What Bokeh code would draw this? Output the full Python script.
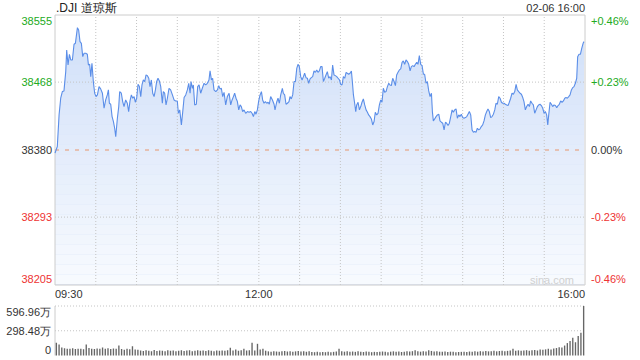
from bokeh.plotting import figure
from bokeh.models import Range1d, Label, ColumnDataSource
from bokeh.embed import file_html
from bokeh.resources import INLINE

title_text = ".DJI 道琼斯"
date_text = "02-06 16:00"
watermark = "sina.com"
prev_close = 38380
price_ticks = [38205, 38293, 38380, 38468, 38555]
pct_labels = ["-0.46%", "-0.23%", "0.00%", "+0.23%", "+0.46%"]
time_ticks = [0, 150, 390]
time_labels = ["09:30", "12:00", "16:00"]
vol_ticks = [0, 298.48, 596.96]
vol_labels = ["0", "298.48万", "596.96万"]

# minutes after 09:30
line_minutes = [
    0, 1.7, 3.0, 4.2, 5.4, 6.6, 7.9, 8.6, 9.6, 10.6, 11.6, 12.8, 14.0, 15.0, 16.5, 17.4, 18.4, 19.4, 20.4, 21.4,
    22.6, 23.8, 24.6, 25.5, 26.3, 27.2, 28.2, 29.2, 30.2, 31.2, 32.4, 33.6, 34.9, 36.1, 37.3, 38.5, 39.3, 40.0, 41.0, 42.0,
    43.0, 43.9, 44.7, 45.9, 46.9, 47.6, 48.8, 49.8, 50.8, 52.0, 53.2, 54.2, 55.2, 56.2, 57.2, 58.2, 59.1, 60.1, 61.1, 62.1,
    63.1, 64.0, 65.0, 66.0, 67.0, 68.0, 69.0, 69.9, 70.9, 71.9, 72.9, 73.9, 74.8, 75.8, 76.8,
    77.8, 79.0, 79.7, 80.7, 81.7, 82.7, 83.9, 85.1, 86.4, 87.6, 88.8, 90.0, 90.8, 91.8, 93.0, 94.0, 95.0, 96.2, 97.4, 98.4,
    99.4, 100.1, 101.1, 101.8, 102.8, 104.0, 105.0, 106.0, 107.2, 108.4, 109.7, 110.9, 112.1, 113.3, 114.1, 115.1, 116.0, 117.0, 118.3, 119.5,
    120.5, 121.4, 122.4, 123.4, 124.4, 125.6, 126.8, 128.1, 129.3, 130.3, 131.3, 132.2, 133.2, 134.2, 135.2, 136.2, 137.1, 138.1, 139.1, 140.3,
    141.6, 142.8, 144.0, 145.0, 146.0, 147.0, 147.9, 148.9, 149.9, 150.9, 151.9, 152.8, 153.8, 154.8, 155.8, 156.8, 157.7,
    158.7, 160.0, 161.2, 161.9, 163.1, 164.1, 165.1, 166.1, 167.3, 168.0, 169.0, 170.0, 171.0, 172.2, 172.9, 173.9, 174.9, 175.9, 176.9, 177.9,
    178.8, 179.8, 180.8, 181.8, 182.8, 183.7, 184.7, 185.7, 186.7, 187.7, 188.6, 189.6, 190.6, 191.6, 192.6, 193.5, 194.5, 195.5, 196.5, 197.5,
    198.5, 199.4, 200.4, 201.4, 202.4, 203.4, 204.3, 205.3, 206.3, 207.3, 208.3, 209.3, 210.2, 211.2, 212.2, 213.2, 214.2, 215.1, 216.1, 217.1,
    218.1, 218.8, 219.6, 220.5, 221.3, 222.0, 223.0, 224.0, 225.0, 225.9, 226.9, 227.9, 228.9, 229.9, 230.8, 231.8, 232.8, 233.8, 234.8, 235.7,
    236.7, 237.7, 238.7,
    239.7, 240.6, 241.6, 242.6, 243.6, 244.6, 245.6, 246.5, 247.5, 248.5, 249.5, 250.5, 251.4, 252.4, 253.4, 254.4, 255.4, 256.3, 257.3, 258.3,
    259.3, 260.3, 261.3, 262.2, 263.2, 264.2, 265.2, 266.2, 267.1, 268.1, 269.1, 270.1, 271.1, 272.0, 273.0, 274.0, 275.0, 276.0, 277.0, 277.7,
    278.4, 279.4, 280.4, 281.4, 282.4, 283.3, 284.3, 285.3, 286.3, 287.3, 288.2, 289.2, 290.2, 291.2, 292.2, 293.1, 294.1, 295.1, 296.1, 297.1,
    298.0, 299.0, 300.0, 301.0, 302.0, 303.0, 303.9, 304.9, 305.9, 306.9, 307.9, 308.8, 309.8, 310.8, 311.8, 312.8, 313.7, 314.7, 315.7, 316.7,
    317.7, 318.6, 319.6,
    320.6, 321.6, 322.6, 323.6, 324.5, 325.5, 326.5, 327.5, 328.5, 329.4, 330.4, 331.4, 332.4, 333.4, 334.3, 335.3, 336.3, 337.3, 338.3, 339.3,
    340.2, 341.2, 342.2, 343.2, 344.2, 345.1, 346.1, 347.1, 348.1, 349.1, 350.0, 351.0, 352.0, 353.0, 354.0, 355.0, 355.9, 356.9, 357.9, 358.9,
    359.9, 360.8, 361.8, 362.6, 363.3, 364.3, 365.3, 366.2, 367.2, 368.2, 369.2, 370.2, 371.1, 372.1, 373.1, 374.1, 375.1, 376.0, 377.0, 378.0,
    379.0, 380.0, 381.0, 381.9, 382.9, 383.9, 384.6, 385.6, 386.6, 387.6, 388.6, 389.3,
]

line_values = [
    38376.0, 38384.5, 38425.5, 38447.1, 38455.7, 38456.6, 38481.6, 38509.7, 38490.2, 38504.1, 38496.7, 38496.7, 38517.0, 38518.3, 38538.6, 38535.6, 38520.5, 38518.3, 38501.0, 38505.4,
    38505.4, 38504.1, 38490.2, 38491.1, 38475.1, 38492.4, 38468.7, 38453.6, 38449.2, 38451.4, 38462.2, 38459.2, 38453.6, 38434.1, 38444.9, 38451.4, 38457.9, 38440.6, 38439.3, 38423.3,
    38416.9, 38408.2, 38397.4, 38421.2, 38436.3, 38455.7, 38453.6, 38442.8, 38436.3, 38444.9, 38440.6, 38429.8, 38443.6, 38451.4, 38447.1, 38449.2, 38441.9, 38447.1, 38465.2, 38462.2,
    38449.2, 38464.3, 38470.8, 38468.7, 38477.3, 38476.4, 38473.0, 38462.2, 38470.8, 38453.6, 38449.2, 38457.9, 38468.7, 38473.0, 38469.5,
    38462.2, 38440.6, 38455.7, 38453.6, 38438.4, 38447.1, 38460.0, 38457.9, 38451.4, 38444.9, 38443.6, 38443.6, 38427.6, 38432.0, 38412.5, 38429.8, 38448.0, 38451.4, 38457.9, 38466.5,
    38453.6, 38468.7, 38460.0, 38464.3, 38438.4, 38439.3, 38462.2, 38464.3, 38453.6, 38460.0, 38466.5, 38464.3, 38466.5, 38470.8, 38482.5, 38470.8, 38473.0, 38457.9, 38455.7, 38457.9,
    38463.5, 38459.2, 38460.0, 38449.2, 38454.8, 38438.4, 38449.2, 38453.6, 38438.4, 38444.9, 38449.2, 38453.6, 38447.1, 38442.8, 38432.0, 38438.4, 38436.3, 38429.8, 38432.0, 38427.6,
    38429.8, 38428.9, 38429.8, 38427.6, 38423.3, 38429.8, 38426.4, 38432.0, 38443.6, 38451.4, 38455.7, 38444.9, 38440.6, 38442.8, 38440.6, 38441.9, 38439.3,
    38449.2, 38444.9, 38439.3, 38432.0, 38441.9, 38447.1, 38440.6, 38451.4, 38460.0, 38453.6, 38451.4, 38439.3, 38440.6, 38442.8, 38449.2, 38446.2, 38451.4, 38468.7, 38468.7, 38485.9,
    38491.1, 38488.1, 38475.1, 38470.8, 38475.1, 38479.5, 38473.8, 38473.0, 38466.5, 38472.1, 38473.8, 38475.1, 38482.5, 38480.7, 38483.8, 38480.7, 38482.5, 38488.1, 38488.1, 38468.7,
    38473.0, 38477.3, 38481.6, 38473.0, 38475.1, 38470.8, 38490.2, 38477.3, 38476.4, 38475.1, 38473.0, 38470.8, 38465.2, 38464.3, 38475.1, 38473.0, 38480.7, 38479.5, 38478.2, 38479.5,
    38482.5, 38468.7, 38451.4, 38440.6, 38429.8, 38438.4, 38441.9, 38432.0, 38436.3, 38441.9, 38446.2, 38438.4, 38432.0, 38428.9, 38425.5, 38423.3, 38420.3, 38412.5, 38416.9, 38428.9,
    38425.5, 38427.6, 38438.4,
    38444.9, 38441.9, 38460.0, 38454.8, 38455.7, 38462.2, 38466.5, 38464.3, 38463.5, 38473.0, 38468.7, 38463.5, 38477.3, 38480.7, 38483.8, 38485.1, 38493.7, 38495.4, 38491.1, 38496.7,
    38494.6, 38491.1, 38482.5, 38488.1, 38489.4, 38488.1, 38491.1, 38493.7, 38491.1, 38502.3, 38491.1, 38489.4, 38478.2, 38478.2, 38466.5, 38468.7, 38456.6, 38449.2, 38453.6, 38429.8,
    38417.7, 38420.3, 38423.3, 38425.5, 38426.4, 38417.7, 38416.0, 38414.7, 38406.1, 38416.0, 38414.7, 38411.7, 38414.7, 38423.3, 38432.0, 38428.9, 38432.0, 38433.3, 38421.2, 38425.5,
    38423.3, 38426.4, 38422.0, 38421.2, 38422.0, 38423.3, 38426.4, 38429.8, 38425.5, 38406.1, 38403.0, 38403.9, 38403.0, 38408.2, 38406.1, 38407.4, 38410.4, 38412.5, 38417.7, 38425.5,
    38429.8, 38433.3, 38429.8,
    38422.0, 38423.3, 38426.4, 38432.0, 38440.6, 38439.3, 38449.2, 38447.1, 38441.9, 38440.6, 38440.6, 38439.3, 38438.4, 38437.6, 38441.9, 38447.1, 38453.6, 38452.3, 38455.7, 38465.2,
    38457.9, 38455.7, 38453.6, 38452.3, 38448.0, 38442.8, 38432.0, 38436.3, 38439.3, 38436.3, 38443.6, 38440.6, 38438.4, 38427.6, 38432.0, 38436.3, 38438.4, 38439.3, 38437.6, 38434.1,
    38427.6, 38429.8, 38425.5, 38412.5, 38425.5, 38441.9, 38439.3, 38436.3, 38438.4, 38437.6, 38435.0, 38437.6, 38439.3, 38443.6, 38441.9, 38443.6, 38447.1, 38448.0, 38447.1, 38449.2,
    38451.4, 38457.9, 38460.9, 38462.2, 38466.5, 38473.0, 38501.0, 38504.1, 38504.1, 38511.8, 38518.3, 38520.5,
]

# volume in 万 (10^4 shares), one bar per two minutes
vol_values = [
    153, 134, 95, 88, 82, 80, 86, 78, 82, 80,
    76, 134, 90, 82, 78, 85, 80, 95, 82, 88,
    78, 85, 80, 122, 78, 70, 82, 75, 112, 72,
    68, 60, 55, 62, 58, 52, 65, 55, 60, 58,
    52, 62, 56, 60, 50, 58, 62, 55, 60, 64,
    52, 58, 62, 56, 60, 55, 64, 58, 52, 60,
    56, 60, 58, 62, 93, 60, 72, 58, 62, 80,
    60, 64, 153, 60, 141, 72, 80, 58, 50, 46,
    52, 48, 44, 50, 54, 48, 52, 46, 50, 55,
    48, 52, 45, 50, 42, 40, 44, 38, 42, 40,
    45, 40, 44, 48, 80, 52, 46, 50, 45, 48,
    44, 50, 46, 42, 48, 45, 40, 44, 42, 46,
    48, 44, 40, 46, 50, 44, 48, 42, 46, 50,
    48, 52, 64, 50, 46, 52, 48, 62, 55, 48,
    50, 46, 44, 48, 42, 46, 44, 40, 42, 44,
    46, 42, 48, 44, 50, 46, 52, 48, 55, 50,
    52, 56, 50, 54, 58, 52, 56, 60, 80, 58,
    62, 56, 60, 64, 58, 62, 66, 60, 72, 68,
    74, 80, 72, 85, 90, 100, 95, 120, 150, 175,
    215, 160, 235, 275, 596.96,
]
vol_minutes = list(range(1, 390, 2))

# ---- page geometry (pixels); half pixels keep 1px rules crisp ----
W, H = 640, 360
PLOT_L, PLOT_R = 54.5, 584.5      # price & volume panels, left/right
PRICE_T, PRICE_B = 14.5, 284.5    # price panel top/bottom
VOL_T, VOL_B = 305.5, 355         # volume panel top/bottom

FONT = "Liberation Sans"
GREEN = "#22aa22"
RED = "#ee3333"
DARK = "#333333"
GRID = "#c4c4c4"

t0, t1 = time_ticks[0], time_ticks[-1]
y_lo, y_hi = price_ticks[0], price_ticks[-1]
mpp = (t1 - t0) / (PLOT_R - PLOT_L)
ppp = (y_hi - y_lo) / (PRICE_B - PRICE_T)
vpp = vol_ticks[-1] / (VOL_B - VOL_T)

p = figure(width=W, height=H,
           x_range=Range1d(t0 - PLOT_L * mpp, t1 + (W - PLOT_R) * mpp),
           y_range=Range1d(y_lo - (H - PRICE_B) * ppp, y_hi + PRICE_T * ppp),
           output_backend="svg", toolbar_location=None,
           x_axis_location=None, y_axis_location=None, min_border=0)
p.extra_y_ranges = {"vol": Range1d(0 - (H - VOL_B) * vpp, vol_ticks[-1] + VOL_T * vpp)}
p.grid.visible = False
p.outline_line_color = None
p.background_fill_color = "white"
p.border_fill_color = "white"

# ---- price area with vertical gradient ----
src = ColumnDataSource(dict(t=line_minutes, v=line_values))
p.varea(x="t", y1="v", y2=y_lo, source=src, fill_color="#cfdff9")

# white veil in bands whose edges sit on whole pixel rows (no seams)
rows = list(range(int(PRICE_B - 0.5), int(PRICE_T - 0.5) - 1, -10))   # 284, 274, ..., 14
band_edges = [y_lo + (PRICE_B - r) * ppp for r in rows]
nb = len(band_edges) - 1
p.quad(left=t0, right=t1, bottom=band_edges[:-1], top=band_edges[1:], fill_color="white",
       fill_alpha=[0.85 * (1 - (k + 0.5) / nb) for k in range(nb)], line_color=None)

# grid lines
vx = list(range(30, 390, 30))
p.segment(x0=vx, y0=y_lo, x1=vx, y1=y_hi, line_color=GRID, line_dash="1 2", line_width=1)
hy = [price_ticks[1], price_ticks[3]]
p.segment(x0=t0, y0=hy, x1=t1, y1=hy, line_color=GRID, line_dash="1 2", line_width=1)
p.segment(x0=[t0], y0=[prev_close], x1=[t1], y1=[prev_close], line_color="#e8956c",
          line_dash="4 6", line_width=1)

# frame
p.quad(left=[t0], right=[t1], bottom=[y_lo], top=[y_hi], fill_color=None,
       line_color="#cccccc", line_width=1)

p.line("t", "v", source=src, line_color="#5b8ee8", line_width=1.1)

# ---- volume ----
p.segment(x0=t0, y0=vol_ticks[1:], x1=t1, y1=vol_ticks[1:], line_color=GRID,
          line_dash="1 2", line_width=1, y_range_name="vol")
p.segment(x0=[t0], y0=[0], x1=[t0], y1=[vol_ticks[-1]], line_color="#cccccc",
          line_width=1, y_range_name="vol")
p.vbar(x=vol_minutes, top=vol_values, bottom=0, width=1.0, fill_color="#666666",
       line_color=None, y_range_name="vol")

# ---- texts ----
def lab(**kw):
    base = dict(text_baseline="middle", text_font=FONT, text_font_size="11px", text_color=DARK)
    base.update(kw)
    p.add_layout(Label(**base))

price_colors = [RED, RED, DARK, GREEN, GREEN]
edge_shift = [6, 0, 0, 0, -6]
for val, pct, col, dy in zip(price_ticks, pct_labels, price_colors, edge_shift):
    lab(x=t0, y=val, x_offset=-3, y_offset=dy, text=str(val), text_align="right", text_color=col)
    lab(x=t1, y=val, x_offset=6, y_offset=dy, text=pct, text_align="left", text_color=col)

for t, txt, al in zip(time_ticks, time_labels, ["left", "center", "right"]):
    lab(x=t, y=y_lo, y_offset=-9, text=txt, text_align=al)

lab(x=t0, y=y_hi, x_offset=1, y_offset=7, text=title_text, text_align="left",
    text_font_size="12px", text_color="#222222")
lab(x=t1, y=y_hi, y_offset=7, text=date_text, text_align="right")
lab(x=t1, y=y_lo, x_offset=-11, y_offset=5, text=watermark, text_align="right",
    text_color="#d0d0d0")

vol_shift = [6, 0, -6]
for val, txt, dy in zip(vol_ticks, vol_labels, vol_shift):
    lab(x=t0, y=val, x_offset=-4, y_offset=dy, text=txt, text_align="right", y_range_name="vol")

open("out.html", "w").write(file_html(p, INLINE))
